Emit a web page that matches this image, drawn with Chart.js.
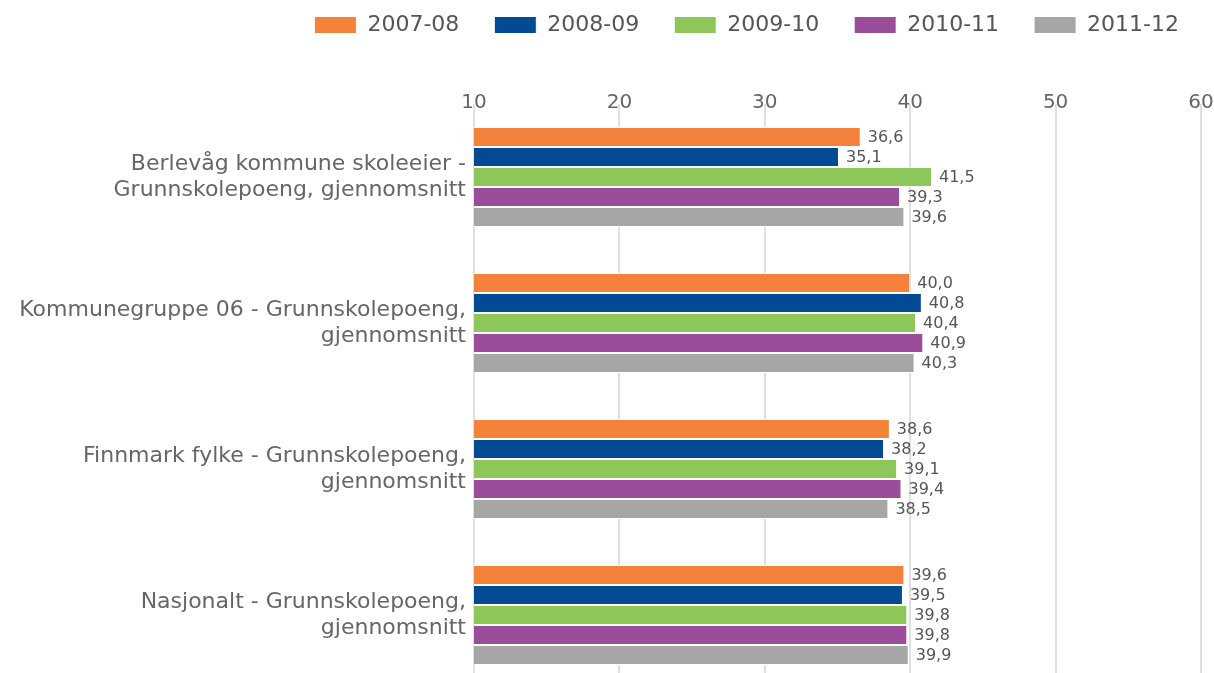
<!DOCTYPE html>
<html>
<head>
    <meta charset="UTF-8">
    <title>Grunnskolepoeng</title>
    <script src="https://cdn.jsdelivr.net/npm/chart.js@4.4.1/dist/chart.umd.min.js"></script>
    <style>
        html, body { margin: 0; padding: 0; overflow: hidden; background: #fff; }
        #wrap { width: 1214px; height: 688px; position: relative; }
    </style>
</head>
<body>
<div id="wrap">
    <canvas id="chart"></canvas>
</div>

<script>
    // Data
    var categories = [
        ['Berlevåg kommune skoleeier -', 'Grunnskolepoeng, gjennomsnitt'],
        ['Kommunegruppe 06 - Grunnskolepoeng,', 'gjennomsnitt'],
        ['Finnmark fylke - Grunnskolepoeng,', 'gjennomsnitt'],
        ['Nasjonalt - Grunnskolepoeng,', 'gjennomsnitt']
    ];
    var seriesNames = ['2007-08', '2008-09', '2009-10', '2010-11', '2011-12'];
    var v2007 = [36.6, 40.0, 38.6, 39.6];
    var v2008 = [35.1, 40.8, 38.2, 39.5];
    var v2009 = [41.5, 40.4, 39.1, 39.8];
    var v2010 = [39.3, 40.9, 39.4, 39.8];
    var v2011 = [39.6, 40.3, 38.5, 39.9];
    var xTicks = [10, 20, 30, 40, 50, 60];

    var colors = ['#f5823a', '#024a91', '#8dc75a', '#994d9a', '#a6a6a6'];
    var values = [v2007, v2008, v2009, v2010, v2011];

    Chart.defaults.font.family = '"DejaVu Sans", Verdana, sans-serif';
    Chart.defaults.color = '#666';

    // value labels at the end of each bar, decimal comma
    var barLabels = {
        id: 'barLabels',
        afterDatasetsDraw: function(chart) {
            var ctx = chart.ctx;
            ctx.save();
            ctx.font = '16px "DejaVu Sans"';
            ctx.fillStyle = '#555';
            ctx.textAlign = 'left';
            ctx.textBaseline = 'middle';
            chart.data.datasets.forEach(function(ds, i) {
                chart.getDatasetMeta(i).data.forEach(function(bar, j) {
                    var txt = ds.data[j].toFixed(1).replace('.', ',');
                    ctx.fillText(txt, bar.x + 7, bar.y + 1);
                });
            });
            ctx.restore();
        }
    };

    var datasets = seriesNames.map(function(name, i) {
        return {
            label: name,
            data: values[i],
            backgroundColor: colors[i],
            borderColor: '#fff',
            borderWidth: 1,
            categoryPercentage: 0.685,
            barPercentage: 1.0
        };
    });

    var chart = new Chart(document.getElementById('chart').getContext('2d'), {
        type: 'bar',
        data: { labels: categories, datasets: datasets },
        plugins: [barLabels],
        options: {
            indexAxis: 'y',
            responsive: true,
            maintainAspectRatio: false,
            animation: false,
            layout: { padding: { top: -21, left: 0, right: 0, bottom: 0 } },
            plugins: {
                tooltip: { enabled: false },
                legend: {
                    position: 'top',
                    align: 'end',
                    labels: {
                        boxWidth: 42,
                        boxHeight: 17,
                        padding: 35,
                        color: '#555',
                        font: { size: 22 }
                    }
                }
            },
            scales: {
                x: {
                    position: 'top',
                    min: 10,
                    max: 60,
                    afterBuildTicks: function(scale) {
                        scale.ticks = xTicks.map(function(v) { return { value: v }; });
                    },
                    afterFit: function(scale) {
                        scale.height = 58;
                        scale.paddingRight = 13;
                    },
                    grid: { color: '#e0e0e0', lineWidth: 2, drawTicks: false },
                    border: { display: false },
                    // mirrored so the labels are not clipped to the axis box
                    ticks: { mirror: true, padding: -13, color: '#666', font: { size: 20 } }
                },
                y: {
                    afterFit: function(scale) {
                        scale.width = 474;
                        scale.paddingTop = 0;
                        scale.paddingBottom = 0;
                    },
                    grid: { display: false, drawTicks: false },
                    border: { display: false },
                    ticks: { padding: 8, color: '#666', font: { size: 22 } }
                }
            }
        }
    });
</script>
</body>
</html>
